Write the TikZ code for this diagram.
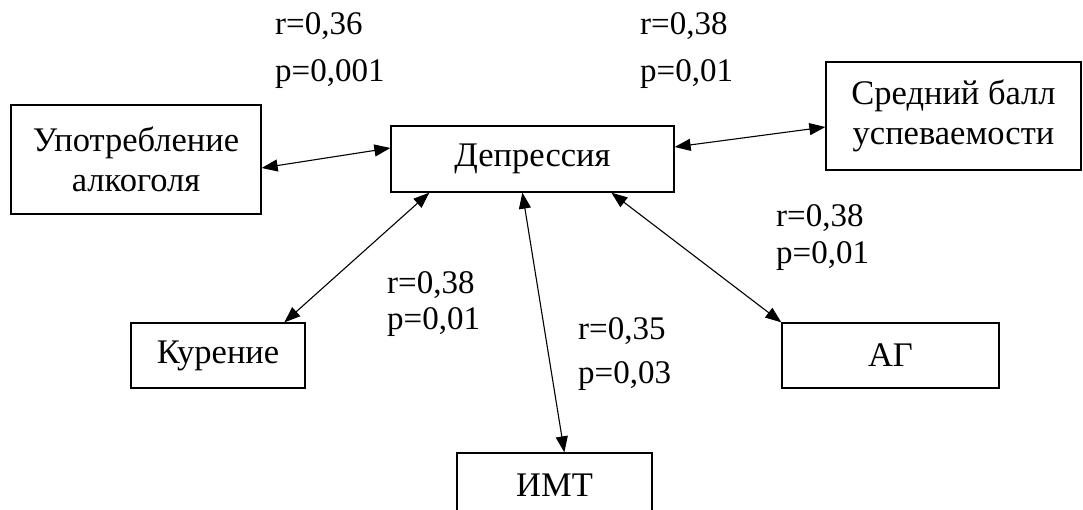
\documentclass[tikz,border=0pt]{standalone}
\usepackage{fontspec}
\setmainfont{Liberation Serif}
\usetikzlibrary{arrows.meta}
\begin{document}
\begin{tikzpicture}[x=1pt,y=-1pt,
  box/.style={draw, line width=1.3pt, inner sep=0pt, align=center,
    font=\fontsize{34.5}{40}\selectfont},
  lbl/.style={anchor=west, inner sep=0pt, font=\fontsize{33}{38}\selectfont},
  link/.style={line width=1.1pt, {Triangle[length=16pt,width=12pt]}-{Triangle[length=16pt,width=12pt]}}]
\useasboundingbox (0,0) rectangle (1083,510);
\node[box, minimum width=283pt, minimum height=66pt] (dep) at (532.5,159) {Депрессия};
\node[box, minimum width=250pt, minimum height=109pt] (alc) at (136,159.5) {Употребление\\алкоголя};
\node[box, minimum width=255pt, minimum height=108pt] (avg) at (953.5,116) {Средний балл\\успеваемости};
\node[box, minimum width=174pt, minimum height=65pt] (smk) at (218,355.5) {Курение};
\node[box, minimum width=217pt, minimum height=65pt] (ag) at (890.5,355.5) {АГ};
\node[box, minimum width=195pt, minimum height=65pt] (bmi) at (554.5,485.5) {ИМТ};

\draw[link] ([yshift=-8.5pt]alc.east) -- ([yshift=11pt]dep.west);
\draw[link] ([yshift=12pt]dep.east) -- ([yshift=-11pt]avg.west);
\draw[link] ([xshift=39pt]dep.south west) -- ([xshift=154pt]smk.north west);
\draw[link] ([xshift=132pt]dep.south west) -- ([xshift=108pt]bmi.north west);
\draw[link] ([xshift=221pt]dep.south west) -- (ag.north west);

\node[lbl] (l1r) at (275,26) {r=0,36};
\node[lbl] (l1p) at (275,74) {p=0,001};
\node[lbl] (l2r) at (640,26) {r=0,38};
\node[lbl] (l2p) at (640,74) {p=0,01};
\node[lbl] (l3r) at (387,285) {r=0,38};
\node[lbl] (l3p) at (387,322) {p=0,01};
\node[lbl] (l4r) at (578,331) {r=0,35};
\node[lbl] (l4p) at (578,376) {p=0,03};
\node[lbl] (l5r) at (776,218) {r=0,38};
\node[lbl] (l5p) at (776,256) {p=0,01};
\end{tikzpicture}
\end{document}
